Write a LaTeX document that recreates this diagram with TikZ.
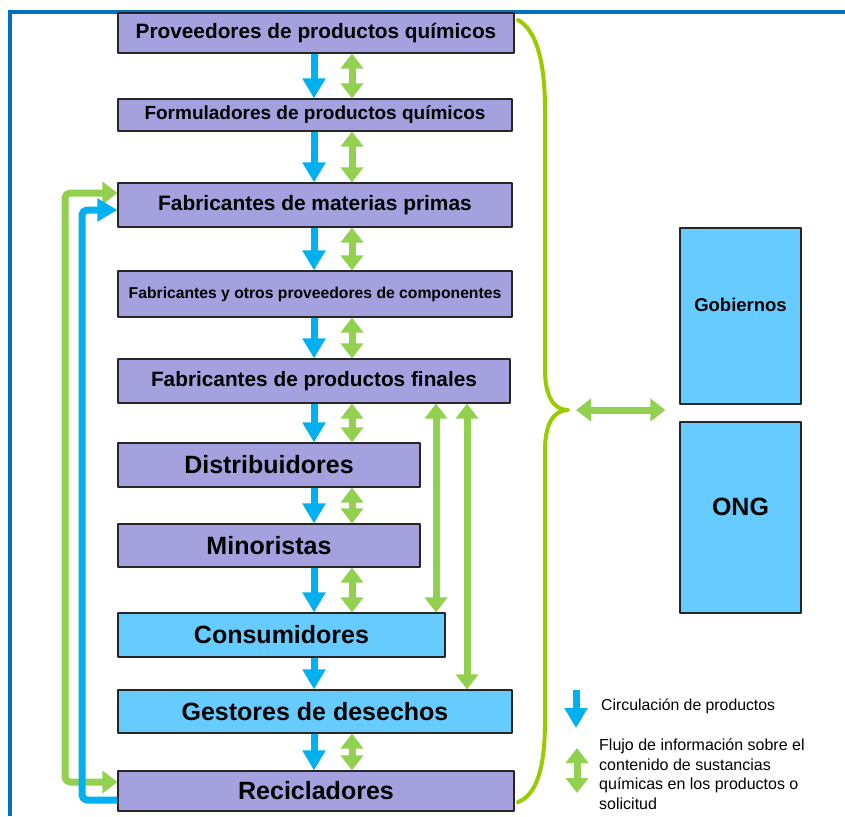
\documentclass[tikz,border=0pt]{standalone}
\usepackage{fontspec}
\setmainfont{Liberation Sans}
\usetikzlibrary{arrows.meta}

\definecolor{lila}{RGB}{165,160,222}
\definecolor{celeste}{RGB}{102,204,255}
\definecolor{azulflecha}{RGB}{0,176,240}
\definecolor{verdeflecha}{RGB}{146,208,80}
\definecolor{verdellave}{RGB}{153,204,0}
\definecolor{azulmarco}{RGB}{0,112,192}

\begin{document}
\begin{tikzpicture}[line join=round,x=1pt,y=-1pt,
	caja/.style={draw=black!85,line width=1.2pt,inner sep=0pt,fill=lila},
	fs/.style={font=\fontsize{#1}{#1}\selectfont\bfseries},
	prod/.style={line width=7pt,color=azulflecha,-{Triangle[width=22pt,length=20pt]}},
	info/.style={line width=7pt,color=verdeflecha,{Triangle[width=22pt,length=15pt]}-{Triangle[width=22pt,length=15pt]}},
	llave/.style={line width=4pt,color=verdellave,line cap=round},
	marco/.style={line width=4pt,color=azulmarco,line join=miter}]
	\useasboundingbox (0,0) rectangle (845,816);
	\draw[marco] (10,816) -- (10,12) -- (845,12);
	\node[caja,fs=20.8,minimum width=396pt,minimum height=40pt] (b1) at (316,33) {Proveedores de productos químicos};
	\node[caja,fs=19,minimum width=394pt,minimum height=32pt] (b2) at (315,115) {Formuladores de productos químicos};
	\node[caja,fs=20.9,minimum width=394pt,minimum height=44pt] (b3) at (315,205) {Fabricantes de materias primas};
	\node[caja,fs=15.7,minimum width=394pt,minimum height=46pt] (b4) at (315,294) {Fabricantes y otros proveedores de componentes};
	\node[caja,fs=20.8,minimum width=392pt,minimum height=44pt] (b5) at (314,381) {Fabricantes de productos finales};
	\node[caja,fs=25,minimum width=302pt,minimum height=44pt] (b6) at (269,465) {Distribuidores};
	\node[caja,fs=25,minimum width=302pt,minimum height=43pt] (b7) at (269,545.5) {Minoristas};
	\node[caja,fs=25,fill=celeste,minimum width=327pt,minimum height=44pt] (b8) at (281.5,635) {Consumidores};
	\node[caja,fs=25,fill=celeste,minimum width=394pt,minimum height=43pt] (b9) at (315,711.5) {Gestores de desechos};
	\node[caja,fs=25,minimum width=396pt,minimum height=40pt] (b10) at (316,791) {Recicladores};
	\node[caja,fs=18.5,fill=celeste,minimum width=121pt,minimum height=176pt,text depth=22pt] (gob) at (740.5,316) {Gobiernos};
	\node[caja,fs=25,fill=celeste,minimum width=121pt,minimum height=191pt,text depth=22pt] (ong) at (740.5,517.5) {ONG};
	\coordinate (pb) at (314,0);
	\coordinate (ib) at (352,0);
	\coordinate (il) at (436,0);
	\coordinate (ir) at (467,0);
	\coordinate (gl) at (65,0);
	\coordinate (bl) at (82,0);
	\foreach \a/\b in {b1/b2,b2/b3,b3/b4,b4/b5,b5/b6,b6/b7,b7/b8,b8/b9,b9/b10}
		\draw[prod] (\a.south -| pb) -- (\b.north -| pb);
	\foreach \a/\b in {b1/b2,b2/b3,b3/b4,b4/b5,b5/b6,b6/b7,b7/b8,b9/b10}
		\draw[info] (\a.south -| ib) -- (\b.north -| ib);
	\draw[info] (b5.south -| il) -- (b8.north -| il);
	\draw[info] (b5.south -| ir) -- (b9.north -| ir);
	\draw[info,rounded corners=5pt] ([yshift=9pt]b10.west) -- ([yshift=9pt]b10.west -| gl) -- ([yshift=12pt]b3.west -| gl) -- ([yshift=12pt]b3.west);
	\draw[prod,rounded corners=5pt] ([yshift=-9pt]b10.west) -- ([yshift=-9pt]b10.west -| bl) -- ([yshift=-5pt]b3.west -| bl) -- ([yshift=-5pt]b3.west);
	\draw[llave] (518,20) .. controls (536,30) and (545,60) .. (545,110) -- (545,370) .. controls (545,395) and (553,410) .. (568,410) .. controls (553,410) and (545,425) .. (545,450) -- (545,720) .. controls (545,770) and (536,795) .. (518,802);
	\coordinate (pico) at (568,410);
	\draw[info] ([xshift=8pt]pico) -- ([xshift=-14pt]pico -| gob.west);
	\coordinate (lp1) at (576,690);
	\coordinate (lp2) at (576,728);
	\coordinate (li1) at (577,748);
	\coordinate (li2) at (577,793);
	\draw[prod] (lp1) -- (lp2);
	\draw[info] (li1) -- (li2);
	\node[anchor=base west,inner sep=0pt,font=\fontsize{15.8}{19.5}\selectfont] (tprod) at (601,710) {Circulación de productos};
	\node[anchor=north west,inner sep=0pt,align=left,font=\fontsize{16}{19.5}\selectfont] (tinfo) at (599,739) {Flujo de información sobre el\\contenido de sustancias\\químicas en los productos o\\solicitud};
\end{tikzpicture}
\end{document}
